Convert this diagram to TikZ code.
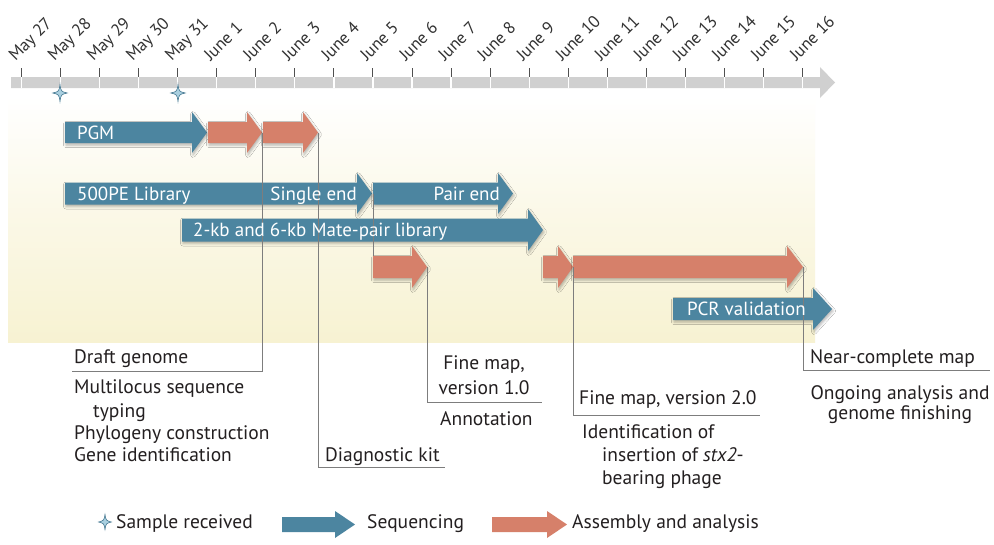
\documentclass[tikz,border=0pt]{standalone}
\usepackage{fontspec}
\setmainfont{PT Sans}
\usetikzlibrary{shadows.blur}
\definecolor{seqblue}{RGB}{76,133,160}
\definecolor{asmorange}{RGB}{214,128,106}
\definecolor{cream}{RGB}{247,242,210}
\definecolor{bargray}{RGB}{208,208,208}
\definecolor{tickgray}{RGB}{80,80,80}
\definecolor{linegray}{RGB}{125,125,125}
\definecolor{txt}{RGB}{35,31,32}
\definecolor{datetxt}{RGB}{50,50,50}
\definecolor{starfill}{RGB}{170,208,224}
\definecolor{staredge}{RGB}{70,120,145}
\newcommand{\blockarr}[8]{% name, x0, xtip, yc, style, headlen, bodyhalf, headhalf
  \fill[#5] (#2,#4-#7) -- (#3-#6,#4-#7) -- (#3-#6,#4-#8) -- (#3,#4) -- (#3-#6,#4+#8) -- (#3-#6,#4+#7) -- (#2,#4+#7) -- cycle;
  \coordinate (#1-tip) at (#3,#4);
  \coordinate (#1-start) at (#2,#4-#7);
}
\newcommand{\sparkle}[3]{% x, y, radius
  \filldraw[fill=starfill, draw=staredge, line width=0.6pt]
    (#1,#2-#3) .. controls (#1+1,#2-1.5) .. (#1+0.85*#3,#2)
    .. controls (#1+1,#2+1.5) .. (#1,#2+#3)
    .. controls (#1-1,#2+1.5) .. (#1-0.85*#3,#2)
    .. controls (#1-1,#2-1.5) .. (#1,#2-#3) -- cycle;
}
\tikzset{
  arrsh/.style={blur shadow={shadow xshift=1pt, shadow yshift=-2pt, shadow blur radius=2.5pt, shadow opacity=30}},
  seqarr/.style={seqblue, arrsh},
  asmarr/.style={asmorange, arrsh},
  conn/.style={draw=linegray, line width=0.9pt},
  lbl/.style={font=\fontsize{19.5}{22}\selectfont, text=txt, inner sep=0pt, anchor=base west},
  intext/.style={font=\fontsize{19}{22}\selectfont, text=white, inner sep=0pt},
  datelbl/.style={font=\fontsize{17}{20}\selectfont, text=datetxt, inner sep=0pt, anchor=base west, rotate=45},
}
\begin{document}
\begin{tikzpicture}[x=1pt,y=-1pt]
\useasboundingbox (0,0) rectangle (994,544);
\fill[white] (0,0) rectangle (994,544);
% background band
\shade[top color=white, bottom color=cream, middle color=cream!55] (8,96) rectangle (815,342);
% timeline bar
\fill[bargray] (11,77) -- (820,77) -- (820,67) -- (835,82.5) -- (820,98) -- (820,88) -- (11,88) -- cycle;
\foreach \lab [count=\i from 0] in {May 27,May 28,May 29,May 30,May 31,June 1,June 2,June 3,June 4,June 5,June 6,June 7,June 8,June 9,June 10,June 11,June 12,June 13,June 14,June 15,June 16}{
  \pgfmathsetmacro{\tx}{21.5+39.05*\i}
  \draw[white, line width=1.2pt] (\tx,77) -- (\tx,88);
  \draw[tickgray, line width=1pt] (\tx,68) -- (\tx,77);
  \node[datelbl] (d\i) at (\tx-6,62) {\lab};
}
\sparkle{60}{93}{8.5}
\sparkle{178}{93}{8.5}
% row 1
\blockarr{pgm}{65}{207}{132.5}{seqarr}{15}{10.5}{20.5}
\blockarr{asmA}{208}{262}{132.5}{asmarr}{15}{10.5}{20.5}
\blockarr{asmB}{263}{318}{132.5}{asmarr}{15}{10.5}{20.5}
% row 2
\blockarr{single}{65}{372}{193.5}{seqarr}{15}{11}{20.5}
\blockarr{pair}{373}{513}{193.5}{seqarr}{15}{11}{20.5}
% row 3
\blockarr{mate}{182}{543}{230}{seqarr}{15}{11.5}{21}
% row 4
\blockarr{asmC}{373}{427}{267}{asmarr}{15}{11}{21}
\blockarr{asmD}{543}{573}{267}{asmarr}{15}{11}{21}
\blockarr{asmE}{573}{803}{267}{asmarr}{16}{11}{21}
% row 5
\blockarr{pcr}{673}{832}{309}{seqarr}{19}{11}{21}
% connector end points
\coordinate (draftEnd) at (72,371);
\coordinate (diagEnd) at (445,467);
\coordinate (fm1End) at (542,402);
\coordinate (fm2End) at (760,415);
\coordinate (nearEnd) at (990,370);
\draw[conn] (asmA-tip) |- (draftEnd);
\draw[conn] (asmB-tip) |- (diagEnd);
\draw[conn] (pair-tip -| pair-start) -- (asmC-start);
\draw[conn] (asmC-tip) |- (fm1End);
\draw[conn] (asmE-start |- asmE-tip) |- (fm2End);
\draw[conn] (asmE-tip) |- (nearEnd);
% texts in arrows
\node[intext, anchor=base west] (tpgm) at (77,139) {PGM};
\node[intext, anchor=base west] (t500) at (77,200) {500PE Library};
\node[intext, anchor=base east] (tsingle) at (357,200) {Single end};
\node[intext, anchor=base east] (tpair) at (500,200) {Pair end};
\node[intext, anchor=base west] (tmate) at (193,236.5) {2-kb and 6-kb Mate-pair library};
\node[intext, anchor=base west] (tpcr) at (687,315.5) {PCR validation};
% result texts
\node[lbl] (draft) at (74,363) {Draft genome};
\node[lbl] (mlst) at (74,393) {Multilocus sequence};
\node[lbl] (mlst2) at (93,417) {typing};
\node[lbl] (phylo) at (74,439) {Phylogeny construction};
\node[lbl] (gene) at (74,461) {Gene identification};
\node[lbl] (diag) at (325,461) {Diagnostic kit};
\node[lbl, anchor=base] (fm1a) at (484,369) {Fine map,};
\node[lbl, anchor=base] (fm1b) at (484,394) {version 1.0};
\node[lbl] (annot) at (440,425) {Annotation};
\node[lbl] (fm2) at (579,404) {Fine map, version 2.0};
\node[lbl] (ident1) at (582,438) {Identification of};
\node[lbl] (ident2) at (602,461) {insertion of \textit{stx2}-};
\node[lbl] (ident3) at (602,484) {bearing phage};
\node[lbl] (near) at (810,363) {Near-complete map};
\node[lbl, anchor=base] (ongo1) at (900,399) {Ongoing analysis and};
\node[lbl, anchor=base] (ongo2) at (900,419) {genome finishing};
% legend
\sparkle{105}{522}{7.5}
\node[lbl] (legsample) at (116,528) {Sample received};
\blockarr{legseq}{282}{355}{524.5}{seqblue}{20}{7.5}{13.5}
\node[lbl] (legseqt) at (367,528) {Sequencing};
\blockarr{legasm}{492}{567}{524.5}{asmorange}{20}{7.5}{13.5}
\node[lbl] (legasmt) at (572,528) {Assembly and analysis};
\end{tikzpicture}
\end{document}
